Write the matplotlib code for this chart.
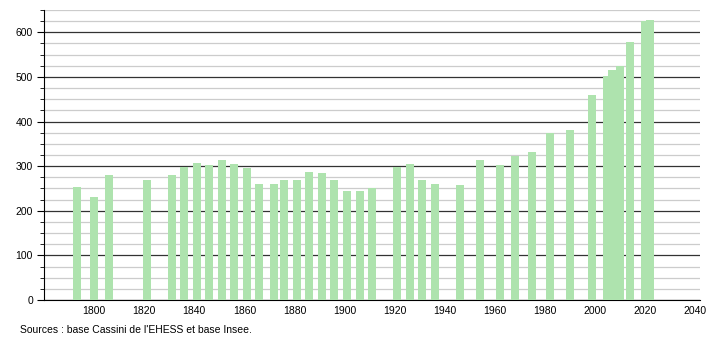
import matplotlib.pyplot as plt
from matplotlib.ticker import MultipleLocator

# census years and population
years = [1793, 1800, 1806, 1821, 1831, 1836, 1841, 1846, 1851, 1856,
         1861, 1866, 1872, 1876, 1881, 1886, 1891, 1896, 1901, 1906,
         1911, 1921, 1926, 1931, 1936, 1946, 1954, 1962, 1968, 1975,
         1982, 1990, 1999, 2005, 2007, 2010, 2014, 2020, 2022]
population = [254, 232, 281, 270, 281, 298, 306, 302, 313, 304,
              295, 261, 259, 270, 270, 288, 284, 270, 245, 245,
              252, 297, 304, 270, 261, 257, 313, 302, 322, 331,
              374, 382, 459, 501, 515, 525, 578, 625, 627]
year_ticks = list(range(1800, 2041, 20))

plt.rcParams['font.family'] = ['Liberation Sans', 'DejaVu Sans']

fig = plt.figure(figsize=(7.1, 3.4), dpi=100)
ax = fig.add_axes([0.062, 0.1176, 0.924, 0.853])

ax.bar(years, population, width=3.2, color='#aee3ae', zorder=3)

ax.set_xlim(1780, 2042)
ax.set_ylim(0, 650)
ax.set_xticks(year_ticks)
ax.yaxis.set_major_locator(MultipleLocator(100))
ax.yaxis.set_minor_locator(MultipleLocator(25))

ax.grid(axis='y', which='major', color='#333333', linewidth=0.9, zorder=1)
ax.grid(axis='y', which='minor', color='#cccccc', linewidth=0.9, zorder=1)

for side in ['top', 'right']:
    ax.spines[side].set_visible(False)
ax.spines['left'].set_color('black')
ax.spines['bottom'].set_color('black')

ax.tick_params(axis='x', length=0, labelsize=7.5, pad=4)
ax.tick_params(axis='y', which='major', length=5, labelsize=7.5, pad=3)
ax.tick_params(axis='y', which='minor', length=3)

fig.text(0.028, 0.02, "Sources : base Cassini de l'EHESS et base Insee.", fontsize=7.5)

fig.savefig('out.png', dpi=100)
